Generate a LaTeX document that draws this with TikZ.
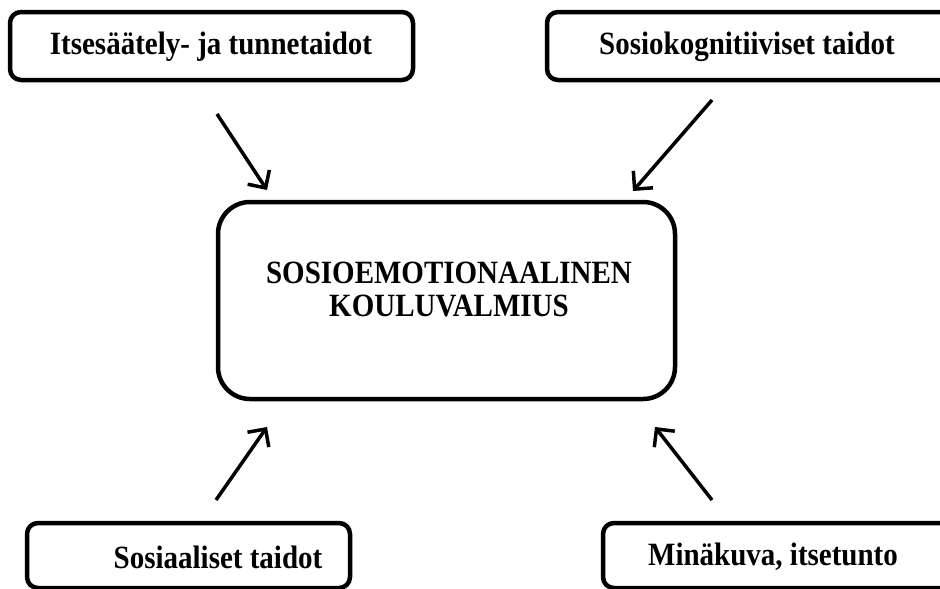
\documentclass[tikz,border=0pt]{standalone}
\usepackage{fontspec}
\setmainfont{Liberation Serif}
\usetikzlibrary{arrows.meta}
% labels are set slightly taller than the font's own proportions
\newcommand{\tallline}[1]{\scalebox{1}[1.12]{#1}}
\begin{document}
\begin{tikzpicture}[x=1pt,y=-1pt,
  box/.style={draw=black,line width=4.5pt,rounded corners=11pt,inner sep=0pt},
  boxtext/.style={font=\bfseries\fontsize{29}{33}\selectfont,inner sep=0pt},
  flow/.style={line width=3.5pt,-{Straight Barb[length=13pt,width=26pt,line width=3.5pt]}}]
  \useasboundingbox (0,0) rectangle (940,589);
  \clip (0,0) rectangle (940,589);
  % central box
  \node[box,rounded corners=32pt,minimum width=457pt,minimum height=197pt] (core) at (446.5,300.5) {};
  \node[boxtext,align=center] (coretext) at (449,289) {\tallline{SOSIOEMOTIONAALINEN}\\\tallline{KOULUVALMIUS}};
  % surrounding boxes
  \node[box,minimum width=403pt,minimum height=68pt] (tl) at (211.5,46) {};
  \node[boxtext] (tltext) at (211,47) {\tallline{Itsesäätely- ja tunnetaidot}};
  \node[box,minimum width=420pt,minimum height=68pt] (tr) at (757,46) {};
  \node[boxtext] (trtext) at (747,47) {\tallline{Sosiokognitiiviset taidot}};
  \node[box,minimum width=323pt,minimum height=65pt] (bl) at (188.5,555.5) {};
  \node[boxtext] (bltext) at (218,557) {\tallline{Sosiaaliset taidot}};
  \node[box,minimum width=360pt,minimum height=65pt] (br) at (783,555.5) {};
  \node[boxtext] (brtext) at (773,557) {\tallline{Minäkuva, itsetunto}};
  % arrow ends
  \coordinate (tla) at (217,114);
  \coordinate (tlb) at (267,190);
  \coordinate (tra) at (712,100);
  \coordinate (trb) at (633,191);
  \coordinate (bla) at (216,500);
  \coordinate (blb) at (267,427);
  \coordinate (bra) at (712,500);
  \coordinate (brb) at (655,427);
  \draw[flow] (tla) -- (tlb);
  \draw[flow] (tra) -- (trb);
  \draw[flow] (bla) -- (blb);
  \draw[flow] (bra) -- (brb);
\end{tikzpicture}
\end{document}
